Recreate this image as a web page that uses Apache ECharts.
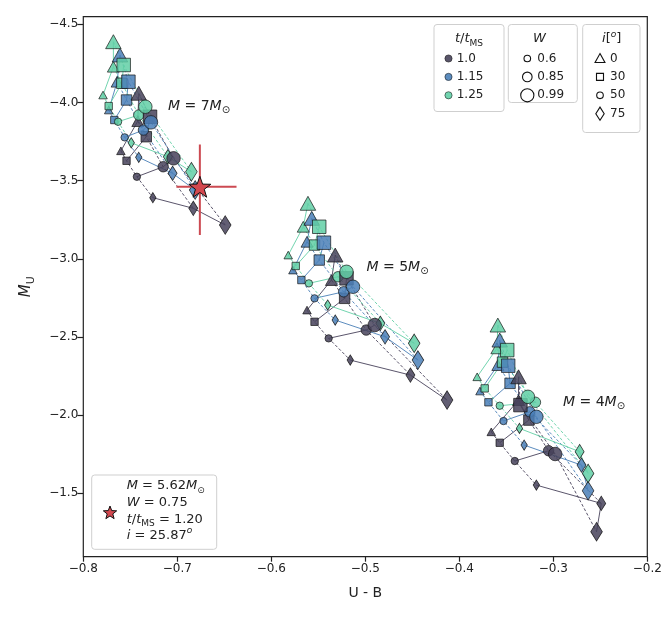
<!DOCTYPE html>
<html>
<head>
<meta charset="utf-8">
<script src="https://cdn.jsdelivr.net/npm/echarts@6/dist/echarts.min.js"></script>
<style>html,body{margin:0;padding:0;background:#fff}#chart{width:665px;height:618px}</style>
</head>
<body>
<div id="chart"></div>
<script>
// order of points inside every model array:
// W=0.6 (i=0,30,50,75), W=0.85 (i=0,30,50,75), W=0.99 (i=0,30,50,75)
var wValues = [0.6, 0.85, 0.99];
var inclinations = [0, 30, 50, 75];
var ageLabels = ['1.0', '1.15', '1.25'];
var xTicks = [-0.8, -0.7, -0.6, -0.5, -0.4, -0.3, -0.2];
var yTicks = [-4.5, -4.0, -3.5, -3.0, -2.5, -2.0, -1.5];

var m7_t100 = [[-0.760,-3.691],[-0.754,-3.627],[-0.743,-3.525],[-0.726,-3.391],
               [-0.742,-3.881],[-0.733,-3.781],[-0.715,-3.589],[-0.683,-3.323],
               [-0.741,-4.059],[-0.729,-3.909],[-0.704,-3.643],[-0.649,-3.216]];
var m7_t115 = [[-0.773,-3.952],[-0.767,-3.888],[-0.756,-3.777],[-0.741,-3.649],
               [-0.764,-4.133],[-0.754,-4.016],[-0.736,-3.824],[-0.705,-3.547],
               [-0.761,-4.304],[-0.752,-4.133],[-0.728,-3.873],[-0.681,-3.440]];
var m7_t125 = [[-0.779,-4.048],[-0.773,-3.977],[-0.763,-3.877],[-0.749,-3.742],
               [-0.768,-4.229],[-0.759,-4.123],[-0.741,-3.920],[-0.710,-3.653],
               [-0.768,-4.389],[-0.757,-4.240],[-0.734,-3.973],[-0.685,-3.557]];
var m5_t100 = [[-0.562,-2.672],[-0.554,-2.597],[-0.539,-2.491],[-0.516,-2.352],
               [-0.536,-2.864],[-0.522,-2.747],[-0.499,-2.544],[-0.452,-2.256],
               [-0.532,-3.024],[-0.520,-2.875],[-0.490,-2.576],[-0.413,-2.096]];
var m5_t115 = [[-0.577,-2.928],[-0.568,-2.864],[-0.554,-2.747],[-0.532,-2.608],
               [-0.562,-3.109],[-0.549,-2.992],[-0.523,-2.789],[-0.479,-2.501],
               [-0.557,-3.259],[-0.544,-3.103],[-0.513,-2.821],[-0.444,-2.352]];
var m5_t125 = [[-0.582,-3.024],[-0.574,-2.954],[-0.560,-2.843],[-0.540,-2.704],
               [-0.566,-3.205],[-0.554,-3.088],[-0.529,-2.885],[-0.484,-2.587],
               [-0.561,-3.355],[-0.549,-3.205],[-0.520,-2.917],[-0.448,-2.459]];
var m4_t100 = [[-0.366,-1.893],[-0.357,-1.823],[-0.341,-1.706],[-0.318,-1.552],
               [-0.337,-2.096],[-0.326,-1.968],[-0.305,-1.772],[-0.249,-1.435],
               [-0.337,-2.245],[-0.335,-2.064],[-0.298,-1.751],[-0.254,-1.254]];
var m4_t115 = [[-0.378,-2.154],[-0.369,-2.082],[-0.353,-1.962],[-0.331,-1.808],
               [-0.359,-2.320],[-0.346,-2.203],[-0.325,-2.021],[-0.270,-1.680],
               [-0.357,-2.480],[-0.348,-2.316],[-0.318,-1.989],[-0.263,-1.516]];
var m4_t125 = [[-0.381,-2.245],[-0.373,-2.171],[-0.357,-2.060],[-0.336,-1.915],
               [-0.360,-2.427],[-0.354,-2.339],[-0.319,-2.082],[-0.272,-1.766],
               [-0.359,-2.576],[-0.349,-2.416],[-0.327,-2.117],[-0.263,-1.627]];

// observed star
var obsPoint = [-0.676, -3.461];
var obsXErr = [-0.701, -0.637];
var obsYErr = [-3.732, -3.152];

var tColors = ['#47425a', '#4a7fb7', '#62cfa6'];
var models = [m7_t100, m7_t115, m7_t125, m5_t100, m5_t115, m5_t125, m4_t100, m4_t115, m4_t125];
var modelAge = [0, 1, 2, 0, 1, 2, 0, 1, 2];
var shapes = ['triangle', 'rect', 'circle', 'diamond'];
var baseSize = [8.5, 12, 15.5];

function markerSize(shape, s) {
  if (shape === 'triangle') return [s, s * 0.9];
  if (shape === 'diamond') return [s * 0.75, s * 1.2];
  return [s * 0.87, s * 0.87];
}

var starPath = 'path://M0,-10L2.35,-3.24L9.51,-3.09L3.8,1.24L5.88,8.09L0,4L-5.88,8.09L-3.8,1.24L-9.51,-3.09L-2.35,-3.24Z';
var FONT = 'DejaVu Sans';

var series = [];
models.forEach(function (pts, k) {
  var c = tColors[modelAge[k]];
  // same inclination across W : solid
  for (var i = 0; i < 4; i++) {
    series.push({
      type: 'line', data: [pts[i], pts[4 + i], pts[8 + i]], symbol: 'none', silent: true,
      lineStyle: { color: c, width: 0.9 }, z: 2
    });
  }
  // same W across inclination : dashed
  for (var w = 0; w < 3; w++) {
    series.push({
      type: 'line', data: pts.slice(w * 4, w * 4 + 4), symbol: 'none', silent: true,
      lineStyle: { color: c, width: 0.9, type: [3, 2] }, z: 2
    });
  }
});

var points = [];
for (var w = 0; w < 3; w++) {
  models.forEach(function (pts, k) {
    for (var i = 0; i < 4; i++) {
      points.push({
        value: pts[w * 4 + i],
        symbol: shapes[i],
        symbolSize: markerSize(shapes[i], baseSize[w]),
        itemStyle: { color: tColors[modelAge[k]], opacity: 0.85, borderColor: '#111', borderWidth: 0.8 }
      });
    }
  });
}
series.push({ type: 'scatter', data: points, z: 3, silent: true });

// error bars and star
series.push({ type: 'line', data: [[obsXErr[0], obsPoint[1]], [obsXErr[1], obsPoint[1]]], symbol: 'none', silent: true,
  lineStyle: { color: '#cc4a52', width: 2 }, z: 4 });
series.push({ type: 'line', data: [[obsPoint[0], obsYErr[0]], [obsPoint[0], obsYErr[1]]], symbol: 'none', silent: true,
  lineStyle: { color: '#cc4a52', width: 2 }, z: 4 });
series.push({ type: 'scatter', data: [obsPoint], symbol: starPath, symbolKeepAspect: true, symbolSize: 22, z: 5, silent: true,
  itemStyle: { color: '#d4484f', borderColor: '#111', borderWidth: 1, opacity: 1 } });

function rich(size) {
  return {
    it: { fontStyle: 'italic', fontSize: size, fontFamily: FONT, lineHeight: size + 5, color: '#222', verticalAlign: 'middle' },
    n: { fontSize: size, fontFamily: FONT, lineHeight: size + 5, color: '#222', verticalAlign: 'middle' },
    sub: { fontSize: Math.round(size * 0.7), fontFamily: FONT, lineHeight: Math.round(size * 0.7), color: '#222', verticalAlign: 'bottom' },
    sup: { fontSize: Math.round(size * 0.7), fontStyle: 'italic', fontFamily: FONT, lineHeight: Math.round(size * 0.7), color: '#222', verticalAlign: 'top' }
  };
}

function txt(x, y, text, size, align) {
  return { type: 'text', x: x, y: y, z: 20, silent: true,
    style: { text: text, rich: rich(size), align: align || 'left', verticalAlign: 'middle', fill: '#222', font: size + 'px ' + FONT } };
}
function box(x, y, w, h) {
  return { type: 'rect', z: 19, silent: true, shape: { x: x, y: y, width: w, height: h, r: 3 },
    style: { fill: 'rgba(255,255,255,0.85)', stroke: '#cfcfcf', lineWidth: 1 } };
}
function tri(cx, cy, s) {
  return { type: 'polygon', z: 20, shape: { points: [[cx, cy - s * 0.55], [cx + s * 0.55, cy + s * 0.45], [cx - s * 0.55, cy + s * 0.45]] },
    style: { fill: 'none', stroke: '#111', lineWidth: 1.1 } };
}
function dia(cx, cy, s) {
  return { type: 'polygon', z: 20, shape: { points: [[cx, cy - s * 0.6], [cx + s * 0.38, cy], [cx, cy + s * 0.6], [cx - s * 0.38, cy]] },
    style: { fill: 'none', stroke: '#111', lineWidth: 1.1 } };
}
function starPts(cx, cy, r) {
  var p = [];
  for (var k = 0; k < 10; k++) {
    var a = -Math.PI / 2 + k * Math.PI / 5;
    var rr = k % 2 === 0 ? r : r * 0.42;
    p.push([cx + rr * Math.cos(a), cy + rr * Math.sin(a)]);
  }
  return p;
}

var graphics = [];
// t/tMS legend
graphics.push(box(434, 24.5, 70, 87));
graphics.push(txt(469, 39, '{it|t}{n|/}{it|t}{sub|MS}', 13, 'center'));
ageLabels.forEach(function (lab, k) {
  var y = 58.5 + k * 18.4;
  graphics.push({ type: 'circle', z: 20, shape: { cx: 448.5, cy: y, r: 3.6 }, style: { fill: tColors[k], stroke: '#111', lineWidth: 0.6, opacity: 0.9 } });
  graphics.push(txt(456.7, y, '{n|' + lab + '}', 12));
});
// W legend
graphics.push(box(508.3, 24.5, 69, 78));
graphics.push(txt(539.5, 39, '{it|W}', 13, 'center'));
wValues.forEach(function (wv, k) {
  var y = 58.5 + k * 18.4;
  graphics.push({ type: 'circle', z: 20, shape: { cx: 527.3, cy: y, r: [3.3, 4.8, 6.6][k] }, style: { fill: 'none', stroke: '#111', lineWidth: 1.1 } });
  graphics.push(txt(537.3, y, '{n|' + wv + '}', 12));
});
// inclination legend
graphics.push(box(582.7, 24.5, 57.3, 108));
graphics.push(txt(611.7, 39, '{it|i}{n|[}{sup|o}{n|]}', 13, 'center'));
inclinations.forEach(function (inc, k) {
  var y = 58.5 + k * 18.4;
  if (k === 0) graphics.push(tri(600, y, 9));
  if (k === 1) graphics.push({ type: 'rect', z: 20, shape: { x: 596.5, y: y - 3.5, width: 7, height: 7 }, style: { fill: 'none', stroke: '#111', lineWidth: 1.1 } });
  if (k === 2) graphics.push({ type: 'circle', z: 20, shape: { cx: 600, cy: y, r: 3.3 }, style: { fill: 'none', stroke: '#111', lineWidth: 1.1 } });
  if (k === 3) graphics.push(dia(600, y, 11));
  graphics.push(txt(610, y, '{n|' + inc + '}', 12));
});
// observed-star legend
graphics.push(box(91.7, 475, 125, 74.3));
graphics.push({ type: 'polygon', z: 20, shape: { points: starPts(110, 513, 7) }, style: { fill: '#d4484f', stroke: '#111', lineWidth: 1 } });
graphics.push(txt(126.7, 486, '{it|M}{n| = 5.62}{it|M}{sub|⊙}', 13));
graphics.push(txt(126.7, 502.7, '{it|W}{n| = 0.75}', 13));
graphics.push(txt(126.7, 519.3, '{it|t}{n|/}{it|t}{sub|MS}{n| = 1.20}', 13));
graphics.push(txt(126.7, 535.5, '{it|i}{n| = 25.87}{sup|o}', 13));
// mass annotations
graphics.push(txt(168, 106, '{it|M}{n| = 7}{it|M}{sub|⊙}', 14));
graphics.push(txt(366.5, 267, '{it|M}{n| = 5}{it|M}{sub|⊙}', 14));
graphics.push(txt(563, 402, '{it|M}{n| = 4}{it|M}{sub|⊙}', 14));

function fmt(v) { return (v < 0 ? '\u2212' : '') + Math.abs(v).toFixed(1); }

var chart = echarts.init(document.getElementById('chart'), null, { renderer: 'canvas' });
chart.setOption({
  animation: false,
  textStyle: { fontFamily: FONT },
  grid: { left: 83.3, right: 17.7, top: 16.7, bottom: 61.3, show: true, borderColor: '#222', borderWidth: 1.2,
          containLabel: false, outerBoundsMode: 'none' },
  xAxis: {
    type: 'value', min: -0.8, max: -0.2,
    name: 'U - B', nameLocation: 'middle', nameGap: 30,
    nameTextStyle: { fontSize: 14, color: '#222', fontFamily: FONT },
    axisLine: { show: false },
    axisTick: { show: true, length: 5, customValues: xTicks, lineStyle: { color: '#222', width: 1.2 } },
    axisLabel: { customValues: xTicks, formatter: fmt, fontSize: 12, color: '#222', margin: 6 },
    splitLine: { show: false }
  },
  yAxis: {
    type: 'value', min: -4.549, max: -1.094, inverse: true,
    name: '{it|M}{sub|U}', nameLocation: 'middle', nameGap: 47, nameRotate: 90,
    nameTextStyle: { rich: rich(15) },
    axisLine: { show: false },
    axisTick: { show: true, length: 6, customValues: yTicks, lineStyle: { color: '#222', width: 1.2 } },
    axisLabel: { customValues: yTicks, formatter: fmt, fontSize: 12, color: '#222', margin: 5 },
    splitLine: { show: false }
  },
  series: series,
  graphic: graphics
});
</script>
</body>
</html>
